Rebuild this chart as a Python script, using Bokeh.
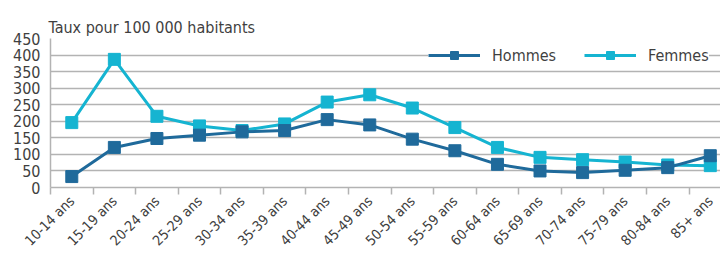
from bokeh.plotting import figure
from bokeh.models import Range1d, FixedTicker, Legend, LegendItem
from bokeh.embed import file_html
from bokeh.resources import INLINE
import math

categories = ["10-14 ans", "15-19 ans", "20-24 ans", "25-29 ans", "30-34 ans", "35-39 ans",
              "40-44 ans", "45-49 ans", "50-54 ans", "55-59 ans", "60-64 ans", "65-69 ans",
              "70-74 ans", "75-79 ans", "80-84 ans", "85+ ans"]
hommes = [33, 121, 148, 158, 168, 172, 205, 189, 146, 111, 70, 50, 45, 52, 60, 96]
femmes = [196, 387, 215, 186, 172, 192, 258, 280, 240, 181, 121, 91, 84, 77, 68, 66]
y_ticks = [0, 50, 100, 150, 200, 250, 300, 350, 400, 450]
title_text = "Taux pour 100 000 habitants"

FONT = "DejaVu Sans Condensed"
TXT = "#3f3f3f"
GRID = "#b3b3b3"
C_H = "#1f6a9b"
C_F = "#15b4d1"

xs = [i + 0.5 for i in range(len(categories))]

p = figure(width=720, height=257, output_backend="svg", toolbar_location=None,
           x_range=Range1d(0, 15.74), y_range=Range1d(0, 450),
           min_border_left=50, min_border_right=0, min_border_top=38, min_border_bottom=68)
p.outline_line_color = None
p.background_fill_color = "white"

p.title.text = title_text
p.title.text_font = FONT
p.title.text_font_size = "16px"
p.title.text_font_style = "normal"
p.title.text_color = TXT
p.title.align = "left"
p.title.offset = -2
p.title.standoff = 3

# x axis: labels at category centres, tick marks (minor) at category boundaries
p.xaxis.ticker = FixedTicker(ticks=xs, minor_ticks=list(range(len(categories) + 1)))
p.xaxis.major_label_overrides = {x: c for x, c in zip(xs, categories)}
p.xaxis.major_label_orientation = math.pi / 4
p.xaxis.major_tick_out = 0
p.xaxis.major_tick_in = 0
p.xaxis.minor_tick_out = 7
p.xaxis.minor_tick_in = 0
p.xaxis.minor_tick_line_color = GRID
p.xaxis.minor_tick_line_width = 1.5
p.xaxis.axis_line_color = GRID
p.xaxis.axis_line_width = 1.5
p.xaxis.major_label_text_font = FONT
p.xaxis.major_label_text_font_size = "14px"
p.xaxis.major_label_text_color = TXT
p.xaxis.major_label_standoff = 4

# y axis
p.yaxis.ticker = FixedTicker(ticks=y_ticks, minor_ticks=[])
p.yaxis.major_tick_out = 0
p.yaxis.major_tick_in = 0
p.yaxis.axis_line_color = GRID
p.yaxis.axis_line_width = 1.5
p.yaxis.major_label_text_font = FONT
p.yaxis.major_label_text_font_size = "16px"
p.yaxis.major_label_text_color = TXT
p.yaxis.major_label_standoff = 10

p.xgrid.grid_line_color = None
p.ygrid.ticker = FixedTicker(ticks=y_ticks)
p.ygrid.grid_line_color = GRID
p.ygrid.grid_line_width = 1.5

lf = p.line(xs, femmes, line_color=C_F, line_width=3)
sf = p.scatter(xs, femmes, marker="square", size=12, fill_color=C_F, line_color=C_F)
lh = p.line(xs, hommes, line_color=C_H, line_width=3)
sh = p.scatter(xs, hommes, marker="square", size=12, fill_color=C_H, line_color=C_H)

legend = Legend(items=[LegendItem(label="Hommes", renderers=[lh, sh]),
                       LegendItem(label="Femmes", renderers=[lf, sf])],
                orientation="horizontal", location=(378, 122),
                padding=5, margin=0, spacing=28, glyph_width=52, glyph_height=20,
                label_standoff=12, label_text_font=FONT, label_text_font_size="16px",
                label_text_color=TXT, border_line_color=None,
                background_fill_color="white", background_fill_alpha=1.0)
p.add_layout(legend)

open("out.html", "w").write(file_html(p, INLINE))
